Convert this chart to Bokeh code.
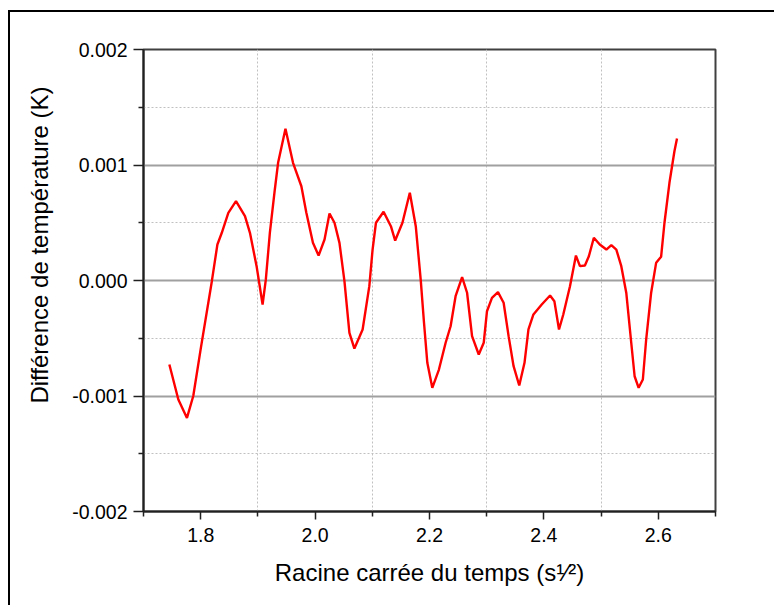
from bokeh.plotting import figure
from bokeh.models import FixedTicker, PrintfTickFormatter, Title
from bokeh.embed import file_html
from bokeh.resources import INLINE

# Data
x_vals = [1.7452, 1.7609, 1.7760, 1.7870, 1.8003, 1.8195, 1.8292, 1.8369, 1.8483, 1.8617,
          1.8774, 1.8861, 1.8977, 1.9082, 1.9139, 1.9209, 1.9296, 1.9353, 1.9482, 1.9614,
          1.9760, 1.9847, 1.9962, 2.0061, 2.0165, 2.0252, 2.0339, 2.0426, 2.0513, 2.0600,
          2.0687, 2.0831, 2.0948, 2.1005, 2.1064, 2.1197, 2.1325, 2.1400, 2.1527, 2.1656,
          2.1760, 2.1847, 2.1904, 2.1962, 2.2049, 2.2165, 2.2282, 2.2369, 2.2456, 2.2570,
          2.2657, 2.2744, 2.2861, 2.2948, 2.3005, 2.3092, 2.3197, 2.3296, 2.3383, 2.3470,
          2.3569, 2.3661, 2.3730, 2.3817, 2.3962, 2.4108, 2.4183, 2.4264, 2.4339, 2.4456,
          2.4560, 2.4630, 2.4717, 2.4786, 2.4873, 2.4977, 2.5092, 2.5179, 2.5266, 2.5353,
          2.5440, 2.5527, 2.5586, 2.5656, 2.5730, 2.5788, 2.5875, 2.5962, 2.6049, 2.6108,
          2.6195, 2.6282, 2.6327]
y_vals = [-0.000727, -0.001030, -0.001190, -0.001000, -0.000583, -0.000006, 0.000312, 0.000413, 0.000586, 0.000687,
          0.000557, 0.000413, 0.000124, -0.000208, 0.000009, 0.000413, 0.000788, 0.001019, 0.001313, 0.001019,
          0.000816, 0.000586, 0.000326, 0.000216, 0.000355, 0.000580, 0.000500, 0.000326, -0.000006, -0.000453,
          -0.000589, -0.000424, -0.000049, 0.000268, 0.000500, 0.000595, 0.000470, 0.000346, 0.000500, 0.000759,
          0.000470, 0.000004, -0.000366, -0.000713, -0.000929, -0.000771, -0.000539, -0.000396, -0.000136, 0.000029,
          -0.000106, -0.000482, -0.000641, -0.000539, -0.000266, -0.000150, -0.000101, -0.000193, -0.000482, -0.000742,
          -0.000909, -0.000713, -0.000424, -0.000294, -0.000208, -0.000130, -0.000179, -0.000424, -0.000294, -0.000049,
          0.000216, 0.000124, 0.000130, 0.000210, 0.000370, 0.000312, 0.000268, 0.000306, 0.000268, 0.000124,
          -0.000106, -0.000539, -0.000829, -0.000929, -0.000857, -0.000511, -0.000106, 0.000153, 0.000205, 0.000500,
          0.000846, 0.001119, 0.001229]

x_ticks = [1.8, 2.0, 2.2, 2.4, 2.6]
x_minor = [1.7, 1.9, 2.1, 2.3, 2.5, 2.7]
y_ticks = [-0.002, -0.001, 0.0, 0.001, 0.002]
y_minor = [-0.0015, -0.0005, 0.0005, 0.0015]

x_title = "Racine carrée du temps (s¹⁄²)"
y_title = "Différence de température (K)"

FONT = "Liberation Sans"

p = figure(width=766, height=595, x_range=(1.7, 2.7), y_range=(-0.002, 0.002),
           output_backend="svg", toolbar_location=None,
           min_border_left=133, min_border_top=37, min_border_right=61, min_border_bottom=96)
p.styles = {"border-left": "2px solid black", "border-top": "2px solid black",
            "margin-top": "10px", "margin-left": "8px"}
p.background_fill_color = "white"
p.border_fill_color = "white"
p.outline_line_color = "#404040"
p.outline_line_width = 2

p.line(x_vals, y_vals, line_color="#ff0000", line_width=2.4)

# axes
xt = FixedTicker(ticks=x_ticks, minor_ticks=x_minor)
yt = FixedTicker(ticks=y_ticks, minor_ticks=y_minor)
p.xaxis.ticker = xt
p.yaxis.ticker = yt
p.xgrid.ticker = xt
p.ygrid.ticker = yt
p.xaxis.formatter = PrintfTickFormatter(format="%.1f")
p.yaxis.formatter = PrintfTickFormatter(format="%.3f")

for ax in (p.xaxis, p.yaxis):
    ax.axis_line_color = "#202020"
    ax.axis_line_width = 2
    ax.major_tick_line_color = "#202020"
    ax.minor_tick_line_color = "#202020"
    ax.major_tick_line_width = 1.5
    ax.minor_tick_line_width = 1.5
    ax.major_tick_in = 0
    ax.minor_tick_in = 0
    ax.major_label_text_font = FONT
    ax.major_label_text_font_size = "19.5px"
    ax.major_label_text_color = "black"
    ax.axis_label_text_font = FONT
    ax.axis_label_text_font_size = "24px"
    ax.axis_label_text_font_style = "normal"
    ax.axis_label_text_color = "black"

p.xaxis.major_tick_out = 8
p.xaxis.minor_tick_out = 5
p.yaxis.major_tick_out = 10
p.yaxis.minor_tick_out = 5
p.xaxis.major_label_standoff = 8
p.yaxis.major_label_standoff = 6
p.xaxis.axis_label = x_title
p.xaxis.axis_label_standoff = 14

# grids
p.xgrid.grid_line_color = None
p.xgrid.minor_grid_line_color = "#c0c0c0"
p.xgrid.minor_grid_line_dash = "2 2"
p.xgrid.minor_grid_line_width = 1
p.ygrid.grid_line_color = "#a0a0a0"
p.ygrid.grid_line_width = 2
p.ygrid.minor_grid_line_color = "#c0c0c0"
p.ygrid.minor_grid_line_dash = "2 2"
p.ygrid.minor_grid_line_width = 1

# y title, placed slightly above the frame centre as in the reference
ytitle = Title(text=y_title, align="right", offset=37, vertical_align="top",
               text_font=FONT, text_font_size="24px", text_font_style="normal",
               text_color="black", standoff=29)
p.add_layout(ytitle, "left")

open("out.html", "w").write(file_html(p, INLINE))
